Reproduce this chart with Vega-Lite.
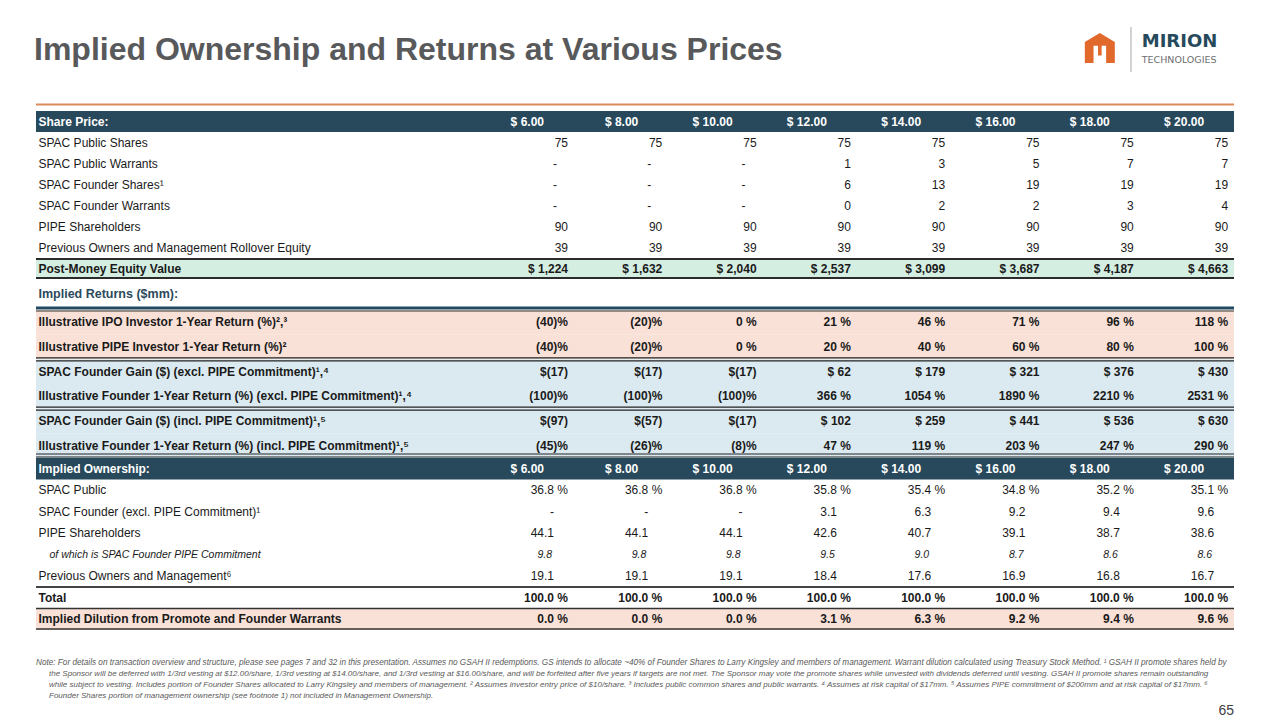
{
 "$schema": "https://vega.github.io/schema/vega-lite/v6.json",
 "background": "white",
 "padding": {"left": 34, "top": 0, "right": 0, "bottom": 0},
 "bounds": "flush",
 "spacing": 0,
 "config": {"view": {"stroke": null}, "font": "Liberation Sans", "text": {"font": "Liberation Sans"}},
 "datasets": {
  "page": [{"title": "Implied Ownership and Returns at Various Prices", "brand": "MIRION", "brandSub": "TECHNOLOGIES", "pageNo": "65",
   "note1": "Note: For details on transaction overview and structure, please see pages 7 and 32 in this presentation. Assumes no GSAH II redemptions.  GS intends to allocate ~40% of Founder Shares to Larry Kingsley and members of management. Warrant dilution calculated using Treasury Stock Method. ¹ GSAH II promote shares held by",
   "notesRest": "the Sponsor will be deferred with 1/3rd vesting at $12.00/share, 1/3rd vesting at $14.00/share, and 1/3rd vesting at $16.00/share, and will be forfeited after five years if targets are not met. The Sponsor may vote the promote shares while unvested with dividends deferred until vesting. GSAH II promote shares remain outstanding\nwhile subject to vesting. Includes portion of Founder Shares allocated to Larry Kingsley and members of management. ² Assumes investor entry price of $10/share. ³ Includes public common shares and public warrants. ⁴ Assumes at risk capital of $17mm. ⁵ Assumes PIPE commitment of $200mm and at risk capital of $17mm. ⁶\nFounder Shares portion of management ownership (see footnote 1) not included in Management Ownership."}],
  "rows": [
   {"b": "A", "r": "Share Price:", "k": "header"},
   {"b": "A", "r": "SPAC Public Shares", "k": "item"},
   {"b": "A", "r": "SPAC Public Warrants", "k": "item"},
   {"b": "A", "r": "SPAC Founder Shares¹", "k": "item"},
   {"b": "A", "r": "SPAC Founder Warrants", "k": "item"},
   {"b": "A", "r": "PIPE Shareholders", "k": "item"},
   {"b": "A", "r": "Previous Owners and Management Rollover Equity", "k": "item"},
   {"b": "A", "r": "Post-Money Equity Value", "k": "total"},
   {"b": "R", "r": "Implied Returns ($mm):", "k": "section"},
   {"b": "B", "r": "Illustrative IPO Investor 1-Year Return (%)²,³", "k": "ret"},
   {"b": "B", "r": "Illustrative PIPE Investor 1-Year Return (%)²", "k": "ret"},
   {"b": "B", "r": "SPAC Founder Gain ($) (excl. PIPE Commitment)¹,⁴", "k": "fnd"},
   {"b": "B", "r": "Illustrative Founder 1-Year Return (%) (excl. PIPE Commitment)¹,⁴", "k": "fnd"},
   {"b": "B", "r": "SPAC Founder Gain ($) (incl. PIPE Commitment)¹,⁵", "k": "fnd"},
   {"b": "B", "r": "Illustrative Founder 1-Year Return (%) (incl. PIPE Commitment)¹,⁵", "k": "fnd"},
   {"b": "C", "r": "Implied Ownership:", "k": "header"},
   {"b": "C", "r": "SPAC Public", "k": "item"},
   {"b": "C", "r": "SPAC Founder (excl. PIPE Commitment)¹", "k": "item"},
   {"b": "C", "r": "PIPE Shareholders", "k": "item"},
   {"b": "C", "r": "of which is SPAC Founder PIPE Commitment", "k": "sub"},
   {"b": "C", "r": "Previous Owners and Management⁶", "k": "item"},
   {"b": "C", "r": "Total", "k": "total"},
   {"b": "C", "r": "Implied Dilution from Promote and Founder Warrants", "k": "dil"}
  ],
  "cells": [
   {"b":"A","r":"Share Price:","k":"header","p":6,"v":"$ 6.00"},{"b":"A","r":"Share Price:","k":"header","p":8,"v":"$ 8.00"},{"b":"A","r":"Share Price:","k":"header","p":10,"v":"$ 10.00"},{"b":"A","r":"Share Price:","k":"header","p":12,"v":"$ 12.00"},{"b":"A","r":"Share Price:","k":"header","p":14,"v":"$ 14.00"},{"b":"A","r":"Share Price:","k":"header","p":16,"v":"$ 16.00"},{"b":"A","r":"Share Price:","k":"header","p":18,"v":"$ 18.00"},{"b":"A","r":"Share Price:","k":"header","p":20,"v":"$ 20.00"},
   {"b":"A","r":"SPAC Public Shares","k":"item","p":6,"v":"75"},{"b":"A","r":"SPAC Public Shares","k":"item","p":8,"v":"75"},{"b":"A","r":"SPAC Public Shares","k":"item","p":10,"v":"75"},{"b":"A","r":"SPAC Public Shares","k":"item","p":12,"v":"75"},{"b":"A","r":"SPAC Public Shares","k":"item","p":14,"v":"75"},{"b":"A","r":"SPAC Public Shares","k":"item","p":16,"v":"75"},{"b":"A","r":"SPAC Public Shares","k":"item","p":18,"v":"75"},{"b":"A","r":"SPAC Public Shares","k":"item","p":20,"v":"75"},
   {"b":"A","r":"SPAC Public Warrants","k":"item","p":6,"v":"-"},{"b":"A","r":"SPAC Public Warrants","k":"item","p":8,"v":"-"},{"b":"A","r":"SPAC Public Warrants","k":"item","p":10,"v":"-"},{"b":"A","r":"SPAC Public Warrants","k":"item","p":12,"v":"1"},{"b":"A","r":"SPAC Public Warrants","k":"item","p":14,"v":"3"},{"b":"A","r":"SPAC Public Warrants","k":"item","p":16,"v":"5"},{"b":"A","r":"SPAC Public Warrants","k":"item","p":18,"v":"7"},{"b":"A","r":"SPAC Public Warrants","k":"item","p":20,"v":"7"},
   {"b":"A","r":"SPAC Founder Shares¹","k":"item","p":6,"v":"-"},{"b":"A","r":"SPAC Founder Shares¹","k":"item","p":8,"v":"-"},{"b":"A","r":"SPAC Founder Shares¹","k":"item","p":10,"v":"-"},{"b":"A","r":"SPAC Founder Shares¹","k":"item","p":12,"v":"6"},{"b":"A","r":"SPAC Founder Shares¹","k":"item","p":14,"v":"13"},{"b":"A","r":"SPAC Founder Shares¹","k":"item","p":16,"v":"19"},{"b":"A","r":"SPAC Founder Shares¹","k":"item","p":18,"v":"19"},{"b":"A","r":"SPAC Founder Shares¹","k":"item","p":20,"v":"19"},
   {"b":"A","r":"SPAC Founder Warrants","k":"item","p":6,"v":"-"},{"b":"A","r":"SPAC Founder Warrants","k":"item","p":8,"v":"-"},{"b":"A","r":"SPAC Founder Warrants","k":"item","p":10,"v":"-"},{"b":"A","r":"SPAC Founder Warrants","k":"item","p":12,"v":"0"},{"b":"A","r":"SPAC Founder Warrants","k":"item","p":14,"v":"2"},{"b":"A","r":"SPAC Founder Warrants","k":"item","p":16,"v":"2"},{"b":"A","r":"SPAC Founder Warrants","k":"item","p":18,"v":"3"},{"b":"A","r":"SPAC Founder Warrants","k":"item","p":20,"v":"4"},
   {"b":"A","r":"PIPE Shareholders","k":"item","p":6,"v":"90"},{"b":"A","r":"PIPE Shareholders","k":"item","p":8,"v":"90"},{"b":"A","r":"PIPE Shareholders","k":"item","p":10,"v":"90"},{"b":"A","r":"PIPE Shareholders","k":"item","p":12,"v":"90"},{"b":"A","r":"PIPE Shareholders","k":"item","p":14,"v":"90"},{"b":"A","r":"PIPE Shareholders","k":"item","p":16,"v":"90"},{"b":"A","r":"PIPE Shareholders","k":"item","p":18,"v":"90"},{"b":"A","r":"PIPE Shareholders","k":"item","p":20,"v":"90"},
   {"b":"A","r":"Previous Owners and Management Rollover Equity","k":"item","p":6,"v":"39"},{"b":"A","r":"Previous Owners and Management Rollover Equity","k":"item","p":8,"v":"39"},{"b":"A","r":"Previous Owners and Management Rollover Equity","k":"item","p":10,"v":"39"},{"b":"A","r":"Previous Owners and Management Rollover Equity","k":"item","p":12,"v":"39"},{"b":"A","r":"Previous Owners and Management Rollover Equity","k":"item","p":14,"v":"39"},{"b":"A","r":"Previous Owners and Management Rollover Equity","k":"item","p":16,"v":"39"},{"b":"A","r":"Previous Owners and Management Rollover Equity","k":"item","p":18,"v":"39"},{"b":"A","r":"Previous Owners and Management Rollover Equity","k":"item","p":20,"v":"39"},
   {"b":"A","r":"Post-Money Equity Value","k":"total","p":6,"v":"$ 1,224"},{"b":"A","r":"Post-Money Equity Value","k":"total","p":8,"v":"$ 1,632"},{"b":"A","r":"Post-Money Equity Value","k":"total","p":10,"v":"$ 2,040"},{"b":"A","r":"Post-Money Equity Value","k":"total","p":12,"v":"$ 2,537"},{"b":"A","r":"Post-Money Equity Value","k":"total","p":14,"v":"$ 3,099"},{"b":"A","r":"Post-Money Equity Value","k":"total","p":16,"v":"$ 3,687"},{"b":"A","r":"Post-Money Equity Value","k":"total","p":18,"v":"$ 4,187"},{"b":"A","r":"Post-Money Equity Value","k":"total","p":20,"v":"$ 4,663"},
   {"b":"B","r":"Illustrative IPO Investor 1-Year Return (%)²,³","k":"ret","p":6,"v":"(40)%"},{"b":"B","r":"Illustrative IPO Investor 1-Year Return (%)²,³","k":"ret","p":8,"v":"(20)%"},{"b":"B","r":"Illustrative IPO Investor 1-Year Return (%)²,³","k":"ret","p":10,"v":"0 %"},{"b":"B","r":"Illustrative IPO Investor 1-Year Return (%)²,³","k":"ret","p":12,"v":"21 %"},{"b":"B","r":"Illustrative IPO Investor 1-Year Return (%)²,³","k":"ret","p":14,"v":"46 %"},{"b":"B","r":"Illustrative IPO Investor 1-Year Return (%)²,³","k":"ret","p":16,"v":"71 %"},{"b":"B","r":"Illustrative IPO Investor 1-Year Return (%)²,³","k":"ret","p":18,"v":"96 %"},{"b":"B","r":"Illustrative IPO Investor 1-Year Return (%)²,³","k":"ret","p":20,"v":"118 %"},
   {"b":"B","r":"Illustrative PIPE Investor 1-Year Return (%)²","k":"ret","p":6,"v":"(40)%"},{"b":"B","r":"Illustrative PIPE Investor 1-Year Return (%)²","k":"ret","p":8,"v":"(20)%"},{"b":"B","r":"Illustrative PIPE Investor 1-Year Return (%)²","k":"ret","p":10,"v":"0 %"},{"b":"B","r":"Illustrative PIPE Investor 1-Year Return (%)²","k":"ret","p":12,"v":"20 %"},{"b":"B","r":"Illustrative PIPE Investor 1-Year Return (%)²","k":"ret","p":14,"v":"40 %"},{"b":"B","r":"Illustrative PIPE Investor 1-Year Return (%)²","k":"ret","p":16,"v":"60 %"},{"b":"B","r":"Illustrative PIPE Investor 1-Year Return (%)²","k":"ret","p":18,"v":"80 %"},{"b":"B","r":"Illustrative PIPE Investor 1-Year Return (%)²","k":"ret","p":20,"v":"100 %"},
   {"b":"B","r":"SPAC Founder Gain ($) (excl. PIPE Commitment)¹,⁴","k":"fnd","p":6,"v":"$(17)"},{"b":"B","r":"SPAC Founder Gain ($) (excl. PIPE Commitment)¹,⁴","k":"fnd","p":8,"v":"$(17)"},{"b":"B","r":"SPAC Founder Gain ($) (excl. PIPE Commitment)¹,⁴","k":"fnd","p":10,"v":"$(17)"},{"b":"B","r":"SPAC Founder Gain ($) (excl. PIPE Commitment)¹,⁴","k":"fnd","p":12,"v":"$ 62"},{"b":"B","r":"SPAC Founder Gain ($) (excl. PIPE Commitment)¹,⁴","k":"fnd","p":14,"v":"$ 179"},{"b":"B","r":"SPAC Founder Gain ($) (excl. PIPE Commitment)¹,⁴","k":"fnd","p":16,"v":"$ 321"},{"b":"B","r":"SPAC Founder Gain ($) (excl. PIPE Commitment)¹,⁴","k":"fnd","p":18,"v":"$ 376"},{"b":"B","r":"SPAC Founder Gain ($) (excl. PIPE Commitment)¹,⁴","k":"fnd","p":20,"v":"$ 430"},
   {"b":"B","r":"Illustrative Founder 1-Year Return (%) (excl. PIPE Commitment)¹,⁴","k":"fnd","p":6,"v":"(100)%"},{"b":"B","r":"Illustrative Founder 1-Year Return (%) (excl. PIPE Commitment)¹,⁴","k":"fnd","p":8,"v":"(100)%"},{"b":"B","r":"Illustrative Founder 1-Year Return (%) (excl. PIPE Commitment)¹,⁴","k":"fnd","p":10,"v":"(100)%"},{"b":"B","r":"Illustrative Founder 1-Year Return (%) (excl. PIPE Commitment)¹,⁴","k":"fnd","p":12,"v":"366 %"},{"b":"B","r":"Illustrative Founder 1-Year Return (%) (excl. PIPE Commitment)¹,⁴","k":"fnd","p":14,"v":"1054 %"},{"b":"B","r":"Illustrative Founder 1-Year Return (%) (excl. PIPE Commitment)¹,⁴","k":"fnd","p":16,"v":"1890 %"},{"b":"B","r":"Illustrative Founder 1-Year Return (%) (excl. PIPE Commitment)¹,⁴","k":"fnd","p":18,"v":"2210 %"},{"b":"B","r":"Illustrative Founder 1-Year Return (%) (excl. PIPE Commitment)¹,⁴","k":"fnd","p":20,"v":"2531 %"},
   {"b":"B","r":"SPAC Founder Gain ($) (incl. PIPE Commitment)¹,⁵","k":"fnd","p":6,"v":"$(97)"},{"b":"B","r":"SPAC Founder Gain ($) (incl. PIPE Commitment)¹,⁵","k":"fnd","p":8,"v":"$(57)"},{"b":"B","r":"SPAC Founder Gain ($) (incl. PIPE Commitment)¹,⁵","k":"fnd","p":10,"v":"$(17)"},{"b":"B","r":"SPAC Founder Gain ($) (incl. PIPE Commitment)¹,⁵","k":"fnd","p":12,"v":"$ 102"},{"b":"B","r":"SPAC Founder Gain ($) (incl. PIPE Commitment)¹,⁵","k":"fnd","p":14,"v":"$ 259"},{"b":"B","r":"SPAC Founder Gain ($) (incl. PIPE Commitment)¹,⁵","k":"fnd","p":16,"v":"$ 441"},{"b":"B","r":"SPAC Founder Gain ($) (incl. PIPE Commitment)¹,⁵","k":"fnd","p":18,"v":"$ 536"},{"b":"B","r":"SPAC Founder Gain ($) (incl. PIPE Commitment)¹,⁵","k":"fnd","p":20,"v":"$ 630"},
   {"b":"B","r":"Illustrative Founder 1-Year Return (%) (incl. PIPE Commitment)¹,⁵","k":"fnd","p":6,"v":"(45)%"},{"b":"B","r":"Illustrative Founder 1-Year Return (%) (incl. PIPE Commitment)¹,⁵","k":"fnd","p":8,"v":"(26)%"},{"b":"B","r":"Illustrative Founder 1-Year Return (%) (incl. PIPE Commitment)¹,⁵","k":"fnd","p":10,"v":"(8)%"},{"b":"B","r":"Illustrative Founder 1-Year Return (%) (incl. PIPE Commitment)¹,⁵","k":"fnd","p":12,"v":"47 %"},{"b":"B","r":"Illustrative Founder 1-Year Return (%) (incl. PIPE Commitment)¹,⁵","k":"fnd","p":14,"v":"119 %"},{"b":"B","r":"Illustrative Founder 1-Year Return (%) (incl. PIPE Commitment)¹,⁵","k":"fnd","p":16,"v":"203 %"},{"b":"B","r":"Illustrative Founder 1-Year Return (%) (incl. PIPE Commitment)¹,⁵","k":"fnd","p":18,"v":"247 %"},{"b":"B","r":"Illustrative Founder 1-Year Return (%) (incl. PIPE Commitment)¹,⁵","k":"fnd","p":20,"v":"290 %"},
   {"b":"C","r":"Implied Ownership:","k":"header","p":6,"v":"$ 6.00"},{"b":"C","r":"Implied Ownership:","k":"header","p":8,"v":"$ 8.00"},{"b":"C","r":"Implied Ownership:","k":"header","p":10,"v":"$ 10.00"},{"b":"C","r":"Implied Ownership:","k":"header","p":12,"v":"$ 12.00"},{"b":"C","r":"Implied Ownership:","k":"header","p":14,"v":"$ 14.00"},{"b":"C","r":"Implied Ownership:","k":"header","p":16,"v":"$ 16.00"},{"b":"C","r":"Implied Ownership:","k":"header","p":18,"v":"$ 18.00"},{"b":"C","r":"Implied Ownership:","k":"header","p":20,"v":"$ 20.00"},
   {"b":"C","r":"SPAC Public","k":"item","p":6,"v":"36.8 %"},{"b":"C","r":"SPAC Public","k":"item","p":8,"v":"36.8 %"},{"b":"C","r":"SPAC Public","k":"item","p":10,"v":"36.8 %"},{"b":"C","r":"SPAC Public","k":"item","p":12,"v":"35.8 %"},{"b":"C","r":"SPAC Public","k":"item","p":14,"v":"35.4 %"},{"b":"C","r":"SPAC Public","k":"item","p":16,"v":"34.8 %"},{"b":"C","r":"SPAC Public","k":"item","p":18,"v":"35.2 %"},{"b":"C","r":"SPAC Public","k":"item","p":20,"v":"35.1 %"},
   {"b":"C","r":"SPAC Founder (excl. PIPE Commitment)¹","k":"item","p":6,"v":"-"},{"b":"C","r":"SPAC Founder (excl. PIPE Commitment)¹","k":"item","p":8,"v":"-"},{"b":"C","r":"SPAC Founder (excl. PIPE Commitment)¹","k":"item","p":10,"v":"-"},{"b":"C","r":"SPAC Founder (excl. PIPE Commitment)¹","k":"item","p":12,"v":"3.1"},{"b":"C","r":"SPAC Founder (excl. PIPE Commitment)¹","k":"item","p":14,"v":"6.3"},{"b":"C","r":"SPAC Founder (excl. PIPE Commitment)¹","k":"item","p":16,"v":"9.2"},{"b":"C","r":"SPAC Founder (excl. PIPE Commitment)¹","k":"item","p":18,"v":"9.4"},{"b":"C","r":"SPAC Founder (excl. PIPE Commitment)¹","k":"item","p":20,"v":"9.6"},
   {"b":"C","r":"PIPE Shareholders","k":"item","p":6,"v":"44.1"},{"b":"C","r":"PIPE Shareholders","k":"item","p":8,"v":"44.1"},{"b":"C","r":"PIPE Shareholders","k":"item","p":10,"v":"44.1"},{"b":"C","r":"PIPE Shareholders","k":"item","p":12,"v":"42.6"},{"b":"C","r":"PIPE Shareholders","k":"item","p":14,"v":"40.7"},{"b":"C","r":"PIPE Shareholders","k":"item","p":16,"v":"39.1"},{"b":"C","r":"PIPE Shareholders","k":"item","p":18,"v":"38.7"},{"b":"C","r":"PIPE Shareholders","k":"item","p":20,"v":"38.6"},
   {"b":"C","r":"of which is SPAC Founder PIPE Commitment","k":"sub","p":6,"v":"9.8"},{"b":"C","r":"of which is SPAC Founder PIPE Commitment","k":"sub","p":8,"v":"9.8"},{"b":"C","r":"of which is SPAC Founder PIPE Commitment","k":"sub","p":10,"v":"9.8"},{"b":"C","r":"of which is SPAC Founder PIPE Commitment","k":"sub","p":12,"v":"9.5"},{"b":"C","r":"of which is SPAC Founder PIPE Commitment","k":"sub","p":14,"v":"9.0"},{"b":"C","r":"of which is SPAC Founder PIPE Commitment","k":"sub","p":16,"v":"8.7"},{"b":"C","r":"of which is SPAC Founder PIPE Commitment","k":"sub","p":18,"v":"8.6"},{"b":"C","r":"of which is SPAC Founder PIPE Commitment","k":"sub","p":20,"v":"8.6"},
   {"b":"C","r":"Previous Owners and Management⁶","k":"item","p":6,"v":"19.1"},{"b":"C","r":"Previous Owners and Management⁶","k":"item","p":8,"v":"19.1"},{"b":"C","r":"Previous Owners and Management⁶","k":"item","p":10,"v":"19.1"},{"b":"C","r":"Previous Owners and Management⁶","k":"item","p":12,"v":"18.4"},{"b":"C","r":"Previous Owners and Management⁶","k":"item","p":14,"v":"17.6"},{"b":"C","r":"Previous Owners and Management⁶","k":"item","p":16,"v":"16.9"},{"b":"C","r":"Previous Owners and Management⁶","k":"item","p":18,"v":"16.8"},{"b":"C","r":"Previous Owners and Management⁶","k":"item","p":20,"v":"16.7"},
   {"b":"C","r":"Total","k":"total","p":6,"v":"100.0 %"},{"b":"C","r":"Total","k":"total","p":8,"v":"100.0 %"},{"b":"C","r":"Total","k":"total","p":10,"v":"100.0 %"},{"b":"C","r":"Total","k":"total","p":12,"v":"100.0 %"},{"b":"C","r":"Total","k":"total","p":14,"v":"100.0 %"},{"b":"C","r":"Total","k":"total","p":16,"v":"100.0 %"},{"b":"C","r":"Total","k":"total","p":18,"v":"100.0 %"},{"b":"C","r":"Total","k":"total","p":20,"v":"100.0 %"},
   {"b":"C","r":"Implied Dilution from Promote and Founder Warrants","k":"dil","p":6,"v":"0.0 %"},{"b":"C","r":"Implied Dilution from Promote and Founder Warrants","k":"dil","p":8,"v":"0.0 %"},{"b":"C","r":"Implied Dilution from Promote and Founder Warrants","k":"dil","p":10,"v":"0.0 %"},{"b":"C","r":"Implied Dilution from Promote and Founder Warrants","k":"dil","p":12,"v":"3.1 %"},{"b":"C","r":"Implied Dilution from Promote and Founder Warrants","k":"dil","p":14,"v":"6.3 %"},{"b":"C","r":"Implied Dilution from Promote and Founder Warrants","k":"dil","p":16,"v":"9.2 %"},{"b":"C","r":"Implied Dilution from Promote and Founder Warrants","k":"dil","p":18,"v":"9.4 %"},{"b":"C","r":"Implied Dilution from Promote and Founder Warrants","k":"dil","p":20,"v":"9.6 %"}
  ]
 },
 "vconcat": [
  {
   "width": 1198, "height": 111,
   "data": {"name": "page"},
   "layer": [
    {"mark": {"type": "rule", "color": "#dd8a5c", "strokeWidth": 2},
     "encoding": {"x": {"datum": 0, "type": "quantitative", "scale": {"domain": [0, 100], "nice": false, "zero": false}, "axis": null}, "x2": {"datum": 100},
      "y": {"datum": 94.1, "type": "quantitative", "scale": {"domain": [0, 100], "reverse": true, "nice": false, "zero": false}, "axis": null}}},
    {"mark": {"type": "text", "align": "left", "baseline": "alphabetic", "fontSize": 32, "fontWeight": "bold", "color": "#58595b", "font": "Liberation Sans", "dx": -2},
     "encoding": {"x": {"datum": 0, "type": "quantitative", "scale": {"domain": [0, 100], "nice": false, "zero": false}, "axis": null},
      "y": {"datum": 54.1, "type": "quantitative", "scale": {"domain": [0, 100], "reverse": true, "nice": false, "zero": false}, "axis": null},
      "text": {"field": "title", "type": "nominal"}}},
    {"mark": {"type": "point", "shape": "M-1,1L-1,-0.4L0,-1L1,-0.4L1,1L0.42,1L0.42,-0.15L0.12,-0.15L0.12,0.5L-0.12,0.5L-0.12,-0.15L-0.42,-0.15L-0.42,1Z", "filled": true, "size": 900, "color": "#e2692c", "opacity": 1, "strokeWidth": 0},
     "encoding": {"x": {"datum": 88.8, "type": "quantitative", "scale": {"domain": [0, 100], "nice": false, "zero": false}, "axis": null},
      "y": {"datum": 43.2, "type": "quantitative", "scale": {"domain": [0, 100], "reverse": true, "nice": false, "zero": false}, "axis": null}}},
    {"mark": {"type": "rule", "color": "#a6a6a6", "strokeWidth": 1},
     "encoding": {"x": {"datum": 91.4, "type": "quantitative", "scale": {"domain": [0, 100], "nice": false, "zero": false}, "axis": null},
      "y": {"datum": 24.3, "type": "quantitative", "scale": {"domain": [0, 100], "reverse": true, "nice": false, "zero": false}, "axis": null}, "y2": {"datum": 64.9}}},
    {"mark": {"type": "text", "align": "left", "baseline": "alphabetic", "fontSize": 18, "fontWeight": "bold", "color": "#264a5b", "font": "DejaVu Sans"},
     "encoding": {"x": {"datum": 92.3, "type": "quantitative", "scale": {"domain": [0, 100], "nice": false, "zero": false}, "axis": null},
      "y": {"datum": 42.3, "type": "quantitative", "scale": {"domain": [0, 100], "reverse": true, "nice": false, "zero": false}, "axis": null},
      "text": {"field": "brand", "type": "nominal"}}},
    {"mark": {"type": "text", "align": "left", "baseline": "alphabetic", "fontSize": 9.5, "color": "#6d6e71", "font": "DejaVu Sans"},
     "encoding": {"x": {"datum": 92.3, "type": "quantitative", "scale": {"domain": [0, 100], "nice": false, "zero": false}, "axis": null},
      "y": {"datum": 56.8, "type": "quantitative", "scale": {"domain": [0, 100], "reverse": true, "nice": false, "zero": false}, "axis": null},
      "text": {"field": "brandSub", "type": "nominal"}}}
   ]
  },
  {
   "width": 1198, "height": 168,
   "encoding": {"y": {"field": "r", "type": "nominal",
     "scale": {"domain": ["Share Price:", "SPAC Public Shares", "SPAC Public Warrants", "SPAC Founder Shares¹", "SPAC Founder Warrants", "PIPE Shareholders", "Previous Owners and Management Rollover Equity", "Post-Money Equity Value"], "paddingInner": 0, "paddingOuter": 0},
     "axis": {"title": null, "domain": false, "ticks": false, "tickSize": 0, "grid": false, "labelPadding": -2, "labelAlign": "left", "labelBaseline": "middle", "labelFont": "Liberation Sans", "labelFontSize": 12, "labelLimit": 700, "zindex": 1,
      "labelColor": {"condition": {"test": "datum.value == 'Share Price:'", "value": "#ffffff"}, "value": "#1a1a1a"},
      "labelFontWeight": {"condition": {"test": "datum.value == 'Share Price:' || datum.value == 'Post-Money Equity Value'", "value": "bold"}, "value": "normal"}}}},
   "layer": [
    {"data": {"name": "rows"}, "transform": [{"filter": "datum.b == 'A' && datum.k == 'header'"}], "mark": {"type": "rect", "color": "#27495b"}, "encoding": {"x": {"value": 0}, "x2": {"value": "width"}}},
    {"data": {"name": "rows"}, "transform": [{"filter": "datum.b == 'A' && datum.k == 'total'"}], "mark": {"type": "rect", "color": "#d5eee2"}, "encoding": {"x": {"value": 0}, "x2": {"value": "width"}}},
    {"data": {"name": "rows"}, "transform": [{"filter": "datum.b == 'A' && datum.k == 'total'"}], "mark": {"type": "rule", "color": "#2b2b2b", "strokeWidth": 2, "yOffset": 1},
     "encoding": {"x": {"value": 0}, "x2": {"value": "width"}, "y": {"field": "r", "type": "nominal", "bandPosition": 0,
      "scale": {"domain": ["Share Price:", "SPAC Public Shares", "SPAC Public Warrants", "SPAC Founder Shares¹", "SPAC Founder Warrants", "PIPE Shareholders", "Previous Owners and Management Rollover Equity", "Post-Money Equity Value"], "paddingInner": 0, "paddingOuter": 0},
      "axis": {"title": null, "domain": false, "ticks": false, "tickSize": 0, "grid": false, "labelPadding": -2, "labelAlign": "left", "labelBaseline": "middle", "labelFont": "Liberation Sans", "labelFontSize": 12, "labelLimit": 700, "zindex": 1,
       "labelColor": {"condition": {"test": "datum.value == 'Share Price:'", "value": "#ffffff"}, "value": "#1a1a1a"},
       "labelFontWeight": {"condition": {"test": "datum.value == 'Share Price:' || datum.value == 'Post-Money Equity Value'", "value": "bold"}, "value": "normal"}}}}},
    {"data": {"name": "rows"}, "transform": [{"filter": "datum.b == 'A' && datum.k == 'total'"}], "mark": {"type": "rule", "color": "#2b2b2b", "strokeWidth": 2, "yOffset": -1},
     "encoding": {"x": {"value": 0}, "x2": {"value": "width"}, "y": {"field": "r", "type": "nominal", "bandPosition": 1,
      "scale": {"domain": ["Share Price:", "SPAC Public Shares", "SPAC Public Warrants", "SPAC Founder Shares¹", "SPAC Founder Warrants", "PIPE Shareholders", "Previous Owners and Management Rollover Equity", "Post-Money Equity Value"], "paddingInner": 0, "paddingOuter": 0},
      "axis": {"title": null, "domain": false, "ticks": false, "tickSize": 0, "grid": false, "labelPadding": -2, "labelAlign": "left", "labelBaseline": "middle", "labelFont": "Liberation Sans", "labelFontSize": 12, "labelLimit": 700, "zindex": 1,
       "labelColor": {"condition": {"test": "datum.value == 'Share Price:'", "value": "#ffffff"}, "value": "#1a1a1a"},
       "labelFontWeight": {"condition": {"test": "datum.value == 'Share Price:' || datum.value == 'Post-Money Equity Value'", "value": "bold"}, "value": "normal"}}}}},
    {"data": {"name": "cells"}, "transform": [{"filter": "datum.b == 'A' && datum.k == 'item' && datum.v != '-'"}], "mark": {"type": "text", "align": "right", "baseline": "middle", "fontSize": 12, "color": "#1a1a1a"},
     "encoding": {"x": {"field": "p", "type": "quantitative", "scale": {"domain": [-5.283, 20.125], "nice": false, "zero": false}, "axis": null}, "text": {"field": "v", "type": "nominal"}}},
    {"data": {"name": "cells"}, "transform": [{"filter": "datum.b == 'A' && datum.k == 'item' && datum.v == '-'"}], "mark": {"type": "text", "align": "right", "baseline": "middle", "fontSize": 12, "color": "#1a1a1a", "dx": -11},
     "encoding": {"x": {"field": "p", "type": "quantitative", "scale": {"domain": [-5.283, 20.125], "nice": false, "zero": false}, "axis": null}, "text": {"field": "v", "type": "nominal"}}},
    {"data": {"name": "cells"}, "transform": [{"filter": "datum.b == 'A' && datum.k == 'total'"}], "mark": {"type": "text", "align": "right", "baseline": "middle", "fontSize": 12, "fontWeight": "bold", "color": "#1a1a1a"},
     "encoding": {"x": {"field": "p", "type": "quantitative", "scale": {"domain": [-5.283, 20.125], "nice": false, "zero": false}, "axis": null}, "text": {"field": "v", "type": "nominal"}}},
    {"data": {"name": "cells"}, "transform": [{"filter": "datum.b == 'A' && datum.k == 'header'"}], "mark": {"type": "text", "align": "right", "baseline": "middle", "fontSize": 12, "fontWeight": "bold", "color": "#ffffff", "dx": -24},
     "encoding": {"x": {"field": "p", "type": "quantitative", "scale": {"domain": [-5.283, 20.125], "nice": false, "zero": false}, "axis": null}, "text": {"field": "v", "type": "nominal"}}}
   ]
  },
  {
   "width": 1198, "height": 31,
   "data": {"name": "rows"},
   "transform": [{"filter": "datum.k == 'section'"}],
   "mark": {"type": "rule", "color": "#234a63", "strokeWidth": 3, "yOffset": -2},
   "encoding": {"x": {"value": 0}, "x2": {"value": "width"},
    "y": {"field": "r", "type": "nominal", "bandPosition": 1, "scale": {"domain": ["Implied Returns ($mm):"], "paddingInner": 0, "paddingOuter": 0},
     "axis": {"title": null, "domain": false, "ticks": false, "tickSize": 0, "grid": false, "labelPadding": -2, "labelAlign": "left", "labelBaseline": "middle", "labelFont": "Liberation Sans", "labelFontSize": 12.5, "labelLimit": 700, "zindex": 1, "labelColor": "#2c4a5c", "labelFontWeight": "bold", "labelOffset": -1}}}
  },
  {
   "width": 1198, "height": 148,
   "encoding": {"y": {"field": "r", "type": "nominal",
     "scale": {"domain": ["Illustrative IPO Investor 1-Year Return (%)²,³", "Illustrative PIPE Investor 1-Year Return (%)²", "SPAC Founder Gain ($) (excl. PIPE Commitment)¹,⁴", "Illustrative Founder 1-Year Return (%) (excl. PIPE Commitment)¹,⁴", "SPAC Founder Gain ($) (incl. PIPE Commitment)¹,⁵", "Illustrative Founder 1-Year Return (%) (incl. PIPE Commitment)¹,⁵"], "paddingInner": 0, "paddingOuter": 0},
     "axis": {"title": null, "domain": false, "ticks": false, "tickSize": 0, "grid": false, "labelPadding": -2, "labelAlign": "left", "labelBaseline": "middle", "labelFont": "Liberation Sans", "labelFontSize": 12, "labelLimit": 700, "zindex": 1, "labelColor": "#1a1a1a", "labelFontWeight": "bold"}}},
   "layer": [
    {"data": {"name": "rows"}, "transform": [{"filter": "datum.k == 'ret'"}], "mark": {"type": "rect", "color": "#f9e1d7"}, "encoding": {"x": {"value": 0}, "x2": {"value": "width"}}},
    {"data": {"name": "rows"}, "transform": [{"filter": "datum.k == 'fnd'"}], "mark": {"type": "rect", "color": "#dbeaf0"}, "encoding": {"x": {"value": 0}, "x2": {"value": "width"}}},
    {"data": {"name": "rows"}, "transform": [{"filter": "indexof(datum.r, 'Illustrative IPO') == 0"}], "mark": {"type": "rule", "color": "#333333", "strokeWidth": 1.2, "yOffset": 1},
     "encoding": {"x": {"value": 0}, "x2": {"value": "width"}, "y": {"field": "r", "type": "nominal", "bandPosition": 0,
      "scale": {"domain": ["Illustrative IPO Investor 1-Year Return (%)²,³", "Illustrative PIPE Investor 1-Year Return (%)²", "SPAC Founder Gain ($) (excl. PIPE Commitment)¹,⁴", "Illustrative Founder 1-Year Return (%) (excl. PIPE Commitment)¹,⁴", "SPAC Founder Gain ($) (incl. PIPE Commitment)¹,⁵", "Illustrative Founder 1-Year Return (%) (incl. PIPE Commitment)¹,⁵"], "paddingInner": 0, "paddingOuter": 0},
      "axis": {"title": null, "domain": false, "ticks": false, "tickSize": 0, "grid": false, "labelPadding": -2, "labelAlign": "left", "labelBaseline": "middle", "labelFont": "Liberation Sans", "labelFontSize": 12, "labelLimit": 700, "zindex": 1, "labelColor": "#1a1a1a", "labelFontWeight": "bold"}}}},
    {"data": {"name": "rows"}, "transform": [{"filter": "indexof(datum.r, 'SPAC Founder Gain') == 0"}], "mark": {"type": "rule", "color": "#222222", "strokeWidth": 1.2, "yOffset": -1.5},
     "encoding": {"x": {"value": 0}, "x2": {"value": "width"}, "y": {"field": "r", "type": "nominal", "bandPosition": 0,
      "scale": {"domain": ["Illustrative IPO Investor 1-Year Return (%)²,³", "Illustrative PIPE Investor 1-Year Return (%)²", "SPAC Founder Gain ($) (excl. PIPE Commitment)¹,⁴", "Illustrative Founder 1-Year Return (%) (excl. PIPE Commitment)¹,⁴", "SPAC Founder Gain ($) (incl. PIPE Commitment)¹,⁵", "Illustrative Founder 1-Year Return (%) (incl. PIPE Commitment)¹,⁵"], "paddingInner": 0, "paddingOuter": 0},
      "axis": {"title": null, "domain": false, "ticks": false, "tickSize": 0, "grid": false, "labelPadding": -2, "labelAlign": "left", "labelBaseline": "middle", "labelFont": "Liberation Sans", "labelFontSize": 12, "labelLimit": 700, "zindex": 1, "labelColor": "#1a1a1a", "labelFontWeight": "bold"}}}},
    {"data": {"name": "rows"}, "transform": [{"filter": "indexof(datum.r, 'SPAC Founder Gain') == 0"}], "mark": {"type": "rule", "color": "#222222", "strokeWidth": 1.2, "yOffset": 1.5},
     "encoding": {"x": {"value": 0}, "x2": {"value": "width"}, "y": {"field": "r", "type": "nominal", "bandPosition": 0,
      "scale": {"domain": ["Illustrative IPO Investor 1-Year Return (%)²,³", "Illustrative PIPE Investor 1-Year Return (%)²", "SPAC Founder Gain ($) (excl. PIPE Commitment)¹,⁴", "Illustrative Founder 1-Year Return (%) (excl. PIPE Commitment)¹,⁴", "SPAC Founder Gain ($) (incl. PIPE Commitment)¹,⁵", "Illustrative Founder 1-Year Return (%) (incl. PIPE Commitment)¹,⁵"], "paddingInner": 0, "paddingOuter": 0},
      "axis": {"title": null, "domain": false, "ticks": false, "tickSize": 0, "grid": false, "labelPadding": -2, "labelAlign": "left", "labelBaseline": "middle", "labelFont": "Liberation Sans", "labelFontSize": 12, "labelLimit": 700, "zindex": 1, "labelColor": "#1a1a1a", "labelFontWeight": "bold"}}}},
    {"data": {"name": "rows"}, "transform": [{"filter": "datum.k == 'fnd' && indexof(datum.r, 'Illustrative') == 0 && indexof(datum.r, 'incl.') > 0"}], "mark": {"type": "rule", "color": "#222222", "strokeWidth": 1.2, "yOffset": -4},
     "encoding": {"x": {"value": 0}, "x2": {"value": "width"}, "y": {"field": "r", "type": "nominal", "bandPosition": 1,
      "scale": {"domain": ["Illustrative IPO Investor 1-Year Return (%)²,³", "Illustrative PIPE Investor 1-Year Return (%)²", "SPAC Founder Gain ($) (excl. PIPE Commitment)¹,⁴", "Illustrative Founder 1-Year Return (%) (excl. PIPE Commitment)¹,⁴", "SPAC Founder Gain ($) (incl. PIPE Commitment)¹,⁵", "Illustrative Founder 1-Year Return (%) (incl. PIPE Commitment)¹,⁵"], "paddingInner": 0, "paddingOuter": 0},
      "axis": {"title": null, "domain": false, "ticks": false, "tickSize": 0, "grid": false, "labelPadding": -2, "labelAlign": "left", "labelBaseline": "middle", "labelFont": "Liberation Sans", "labelFontSize": 12, "labelLimit": 700, "zindex": 1, "labelColor": "#1a1a1a", "labelFontWeight": "bold"}}}},
    {"data": {"name": "rows"}, "transform": [{"filter": "datum.k == 'fnd' && indexof(datum.r, 'Illustrative') == 0 && indexof(datum.r, 'incl.') > 0"}], "mark": {"type": "rule", "color": "#222222", "strokeWidth": 1.2, "yOffset": -1},
     "encoding": {"x": {"value": 0}, "x2": {"value": "width"}, "y": {"field": "r", "type": "nominal", "bandPosition": 1,
      "scale": {"domain": ["Illustrative IPO Investor 1-Year Return (%)²,³", "Illustrative PIPE Investor 1-Year Return (%)²", "SPAC Founder Gain ($) (excl. PIPE Commitment)¹,⁴", "Illustrative Founder 1-Year Return (%) (excl. PIPE Commitment)¹,⁴", "SPAC Founder Gain ($) (incl. PIPE Commitment)¹,⁵", "Illustrative Founder 1-Year Return (%) (incl. PIPE Commitment)¹,⁵"], "paddingInner": 0, "paddingOuter": 0},
      "axis": {"title": null, "domain": false, "ticks": false, "tickSize": 0, "grid": false, "labelPadding": -2, "labelAlign": "left", "labelBaseline": "middle", "labelFont": "Liberation Sans", "labelFontSize": 12, "labelLimit": 700, "zindex": 1, "labelColor": "#1a1a1a", "labelFontWeight": "bold"}}}},
    {"data": {"name": "cells"}, "transform": [{"filter": "datum.b == 'B'"}], "mark": {"type": "text", "align": "right", "baseline": "middle", "fontSize": 12, "fontWeight": "bold", "color": "#1a1a1a"},
     "encoding": {"x": {"field": "p", "type": "quantitative", "scale": {"domain": [-5.283, 20.125], "nice": false, "zero": false}, "axis": null}, "text": {"field": "v", "type": "nominal"}}}
   ]
  },
  {
   "width": 1198, "height": 172,
   "encoding": {"y": {"field": "r", "type": "nominal",
     "scale": {"domain": ["Implied Ownership:", "SPAC Public", "SPAC Founder (excl. PIPE Commitment)¹", "PIPE Shareholders", "of which is SPAC Founder PIPE Commitment", "Previous Owners and Management⁶", "Total", "Implied Dilution from Promote and Founder Warrants"], "paddingInner": 0, "paddingOuter": 0},
     "axis": {"title": null, "domain": false, "ticks": false, "tickSize": 0, "grid": false, "labelAlign": "left", "labelBaseline": "middle", "labelFont": "Liberation Sans", "labelLimit": 700, "zindex": 1,
      "labelPadding": {"condition": {"test": "datum.value == 'of which is SPAC Founder PIPE Commitment'", "value": -13}, "value": -2},
      "labelFontSize": {"condition": {"test": "datum.value == 'of which is SPAC Founder PIPE Commitment'", "value": 10.5}, "value": 12},
      "labelFontStyle": {"condition": {"test": "datum.value == 'of which is SPAC Founder PIPE Commitment'", "value": "italic"}, "value": "normal"},
      "labelColor": {"condition": {"test": "datum.value == 'Implied Ownership:'", "value": "#ffffff"}, "value": "#1a1a1a"},
      "labelFontWeight": {"condition": {"test": "datum.value == 'Implied Ownership:' || datum.value == 'Total' || datum.value == 'Implied Dilution from Promote and Founder Warrants'", "value": "bold"}, "value": "normal"}}}},
   "layer": [
    {"data": {"name": "rows"}, "transform": [{"filter": "datum.b == 'C' && datum.k == 'header'"}], "mark": {"type": "rect", "color": "#27495b"}, "encoding": {"x": {"value": 0}, "x2": {"value": "width"}}},
    {"data": {"name": "rows"}, "transform": [{"filter": "datum.k == 'dil'"}], "mark": {"type": "rect", "color": "#f9e1d7"}, "encoding": {"x": {"value": 0}, "x2": {"value": "width"}}},
    {"data": {"name": "rows"}, "transform": [{"filter": "datum.b == 'C' && datum.k == 'total'"}], "mark": {"type": "rule", "color": "#444444", "strokeWidth": 2},
     "encoding": {"x": {"value": 0}, "x2": {"value": "width"}, "y": {"field": "r", "type": "nominal", "bandPosition": 0,
      "scale": {"domain": ["Implied Ownership:", "SPAC Public", "SPAC Founder (excl. PIPE Commitment)¹", "PIPE Shareholders", "of which is SPAC Founder PIPE Commitment", "Previous Owners and Management⁶", "Total", "Implied Dilution from Promote and Founder Warrants"], "paddingInner": 0, "paddingOuter": 0},
      "axis": {"title": null, "domain": false, "ticks": false, "tickSize": 0, "grid": false, "labelAlign": "left", "labelBaseline": "middle", "labelFont": "Liberation Sans", "labelLimit": 700, "zindex": 1,
       "labelPadding": {"condition": {"test": "datum.value == 'of which is SPAC Founder PIPE Commitment'", "value": -13}, "value": -2},
       "labelFontSize": {"condition": {"test": "datum.value == 'of which is SPAC Founder PIPE Commitment'", "value": 10.5}, "value": 12},
       "labelFontStyle": {"condition": {"test": "datum.value == 'of which is SPAC Founder PIPE Commitment'", "value": "italic"}, "value": "normal"},
       "labelColor": {"condition": {"test": "datum.value == 'Implied Ownership:'", "value": "#ffffff"}, "value": "#1a1a1a"},
       "labelFontWeight": {"condition": {"test": "datum.value == 'Implied Ownership:' || datum.value == 'Total' || datum.value == 'Implied Dilution from Promote and Founder Warrants'", "value": "bold"}, "value": "normal"}}}}},
    {"data": {"name": "rows"}, "transform": [{"filter": "datum.k == 'dil'"}], "mark": {"type": "rule", "color": "#333333", "strokeWidth": 1.5},
     "encoding": {"x": {"value": 0}, "x2": {"value": "width"}, "y": {"field": "r", "type": "nominal", "bandPosition": 0,
      "scale": {"domain": ["Implied Ownership:", "SPAC Public", "SPAC Founder (excl. PIPE Commitment)¹", "PIPE Shareholders", "of which is SPAC Founder PIPE Commitment", "Previous Owners and Management⁶", "Total", "Implied Dilution from Promote and Founder Warrants"], "paddingInner": 0, "paddingOuter": 0},
      "axis": {"title": null, "domain": false, "ticks": false, "tickSize": 0, "grid": false, "labelAlign": "left", "labelBaseline": "middle", "labelFont": "Liberation Sans", "labelLimit": 700, "zindex": 1,
       "labelPadding": {"condition": {"test": "datum.value == 'of which is SPAC Founder PIPE Commitment'", "value": -13}, "value": -2},
       "labelFontSize": {"condition": {"test": "datum.value == 'of which is SPAC Founder PIPE Commitment'", "value": 10.5}, "value": 12},
       "labelFontStyle": {"condition": {"test": "datum.value == 'of which is SPAC Founder PIPE Commitment'", "value": "italic"}, "value": "normal"},
       "labelColor": {"condition": {"test": "datum.value == 'Implied Ownership:'", "value": "#ffffff"}, "value": "#1a1a1a"},
       "labelFontWeight": {"condition": {"test": "datum.value == 'Implied Ownership:' || datum.value == 'Total' || datum.value == 'Implied Dilution from Promote and Founder Warrants'", "value": "bold"}, "value": "normal"}}}}},
    {"data": {"name": "rows"}, "transform": [{"filter": "datum.k == 'dil'"}], "mark": {"type": "rule", "color": "#333333", "strokeWidth": 1.5, "yOffset": -1},
     "encoding": {"x": {"value": 0}, "x2": {"value": "width"}, "y": {"field": "r", "type": "nominal", "bandPosition": 1,
      "scale": {"domain": ["Implied Ownership:", "SPAC Public", "SPAC Founder (excl. PIPE Commitment)¹", "PIPE Shareholders", "of which is SPAC Founder PIPE Commitment", "Previous Owners and Management⁶", "Total", "Implied Dilution from Promote and Founder Warrants"], "paddingInner": 0, "paddingOuter": 0},
      "axis": {"title": null, "domain": false, "ticks": false, "tickSize": 0, "grid": false, "labelAlign": "left", "labelBaseline": "middle", "labelFont": "Liberation Sans", "labelLimit": 700, "zindex": 1,
       "labelPadding": {"condition": {"test": "datum.value == 'of which is SPAC Founder PIPE Commitment'", "value": -13}, "value": -2},
       "labelFontSize": {"condition": {"test": "datum.value == 'of which is SPAC Founder PIPE Commitment'", "value": 10.5}, "value": 12},
       "labelFontStyle": {"condition": {"test": "datum.value == 'of which is SPAC Founder PIPE Commitment'", "value": "italic"}, "value": "normal"},
       "labelColor": {"condition": {"test": "datum.value == 'Implied Ownership:'", "value": "#ffffff"}, "value": "#1a1a1a"},
       "labelFontWeight": {"condition": {"test": "datum.value == 'Implied Ownership:' || datum.value == 'Total' || datum.value == 'Implied Dilution from Promote and Founder Warrants'", "value": "bold"}, "value": "normal"}}}}},
    {"data": {"name": "cells"}, "transform": [{"filter": "datum.b == 'C' && datum.k == 'header'"}], "mark": {"type": "text", "align": "right", "baseline": "middle", "fontSize": 12, "fontWeight": "bold", "color": "#ffffff", "dx": -24},
     "encoding": {"x": {"field": "p", "type": "quantitative", "scale": {"domain": [-5.283, 20.125], "nice": false, "zero": false}, "axis": null}, "text": {"field": "v", "type": "nominal"}}},
    {"data": {"name": "cells"}, "transform": [{"filter": "datum.b == 'C' && datum.k == 'item' && indexof(datum.v, '%') >= 0"}], "mark": {"type": "text", "align": "right", "baseline": "middle", "fontSize": 12, "color": "#1a1a1a"},
     "encoding": {"x": {"field": "p", "type": "quantitative", "scale": {"domain": [-5.283, 20.125], "nice": false, "zero": false}, "axis": null}, "text": {"field": "v", "type": "nominal"}}},
    {"data": {"name": "cells"}, "transform": [{"filter": "datum.b == 'C' && datum.k == 'item' && indexof(datum.v, '%') < 0"}], "mark": {"type": "text", "align": "right", "baseline": "middle", "fontSize": 12, "color": "#1a1a1a", "dx": -14},
     "encoding": {"x": {"field": "p", "type": "quantitative", "scale": {"domain": [-5.283, 20.125], "nice": false, "zero": false}, "axis": null}, "text": {"field": "v", "type": "nominal"}}},
    {"data": {"name": "cells"}, "transform": [{"filter": "datum.b == 'C' && datum.k == 'sub'"}], "mark": {"type": "text", "align": "right", "baseline": "middle", "fontSize": 10.5, "fontStyle": "italic", "color": "#1a1a1a", "dx": -16},
     "encoding": {"x": {"field": "p", "type": "quantitative", "scale": {"domain": [-5.283, 20.125], "nice": false, "zero": false}, "axis": null}, "text": {"field": "v", "type": "nominal"}}},
    {"data": {"name": "cells"}, "transform": [{"filter": "datum.b == 'C' && (datum.k == 'total' || datum.k == 'dil')"}], "mark": {"type": "text", "align": "right", "baseline": "middle", "fontSize": 12, "fontWeight": "bold", "color": "#1a1a1a"},
     "encoding": {"x": {"field": "p", "type": "quantitative", "scale": {"domain": [-5.283, 20.125], "nice": false, "zero": false}, "axis": null}, "text": {"field": "v", "type": "nominal"}}}
   ]
  },
  {
   "width": 1198, "height": 90,
   "data": {"name": "page"},
   "layer": [
    {"mark": {"type": "text", "align": "left", "baseline": "top", "fontSize": 8.2, "fontStyle": "italic", "color": "#595959", "dy": 29},
     "encoding": {"x": {"value": 0}, "y": {"value": 0}, "text": {"field": "note1", "type": "nominal"}}},
    {"mark": {"type": "text", "align": "left", "baseline": "top", "fontSize": 8.0, "fontStyle": "italic", "color": "#595959", "dx": 13, "dy": 40, "lineBreak": "\n", "lineHeight": 11},
     "encoding": {"x": {"value": 0}, "y": {"value": 0}, "text": {"field": "notesRest", "type": "nominal"}}},
    {"mark": {"type": "text", "align": "right", "baseline": "bottom", "fontSize": 14, "color": "#404040", "dy": -2},
     "encoding": {"x": {"value": "width"}, "y": {"value": "height"}, "text": {"field": "pageNo", "type": "nominal"}}}
   ]
  }
 ]
}
